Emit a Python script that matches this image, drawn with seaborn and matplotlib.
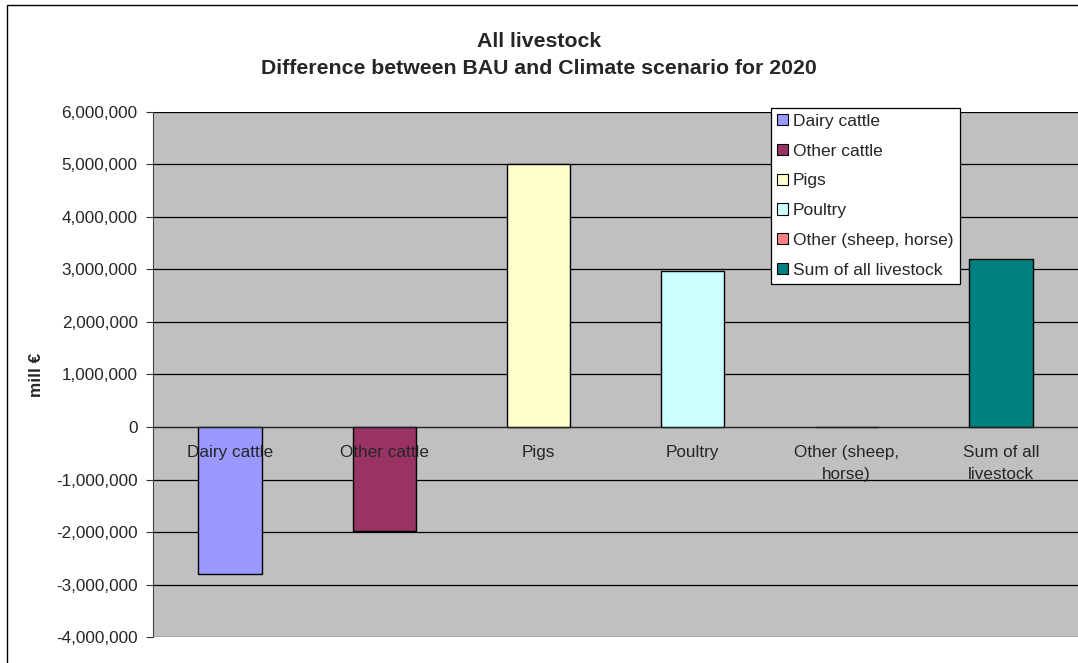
import numpy as np
import pandas as pd
import matplotlib
matplotlib.use('Agg')
import matplotlib.pyplot as plt
import matplotlib.ticker as mticker
from matplotlib.patches import Patch, Rectangle
import seaborn as sns

categories = ['Dairy cattle', 'Other cattle', 'Pigs', 'Poultry',
              'Other (sheep, horse)', 'Sum of all livestock']
tick_labels = ['Dairy cattle', 'Other cattle', 'Pigs', 'Poultry',
               'Other (sheep,\nhorse)', 'Sum of all\nlivestock']
values = [-2800000, -1980000, 5000000, 2970000, 0, 3200000]
colors = ['#9999FF', '#993366', '#FFFFCC', '#CCFFFF', '#FF8080', '#008080']

df = pd.DataFrame({'Category': categories, 'Value': values})

sns.set_style('white')
plt.rcParams['font.family'] = ['Liberation Sans', 'DejaVu Sans']

fig = plt.figure(figsize=(10.78, 6.63), dpi=100)
ax = fig.add_axes([0.1419, 0.0392, 0.8581, 0.7919])
ax.set_facecolor('#C0C0C0')

sns.barplot(data=df, x='Category', y='Value', hue='Category', palette=colors,
            dodge=False, width=0.41, edgecolor='black', linewidth=1,
            saturation=1, legend=False, ax=ax)

ax.set_ylim(-4000000, 6000000)
ax.set_xlim(-0.5, len(categories) - 0.5)
ax.yaxis.set_major_locator(mticker.MultipleLocator(1000000))
ax.yaxis.set_major_formatter(mticker.FuncFormatter(lambda v, p: f'{int(v):,}'))
ax.grid(axis='y', color='black', linewidth=0.9)
# grid behind bars, category labels on top of bars
ax.yaxis.set_zorder(0.5)
ax.xaxis.set_zorder(5)

# category axis sits on the zero line
ax.spines['bottom'].set_position(('data', 0))
ax.spines['bottom'].set_color('#222222')
ax.spines['left'].set_color('#444444')
ax.spines['top'].set_visible(False)
ax.spines['right'].set_visible(False)
ax.set_xticks(range(len(categories)))
ax.set_xticklabels(tick_labels, fontsize=12.3)
ax.set_xticks(np.arange(-0.5, len(categories), 1.0), minor=True)
ax.tick_params(axis='x', which='major', length=0, pad=13)
ax.tick_params(axis='x', which='minor', length=5, direction='in', color='#222222')
ax.tick_params(axis='y', length=5, direction='out', color='#333333', labelsize=12.3,
               left=True, pad=6)
for t in ax.get_xticklabels():
    t.set_multialignment('center')
    t.set_linespacing(1.6)

ax.set_xlabel('')
ax.set_ylabel('mill €', fontsize=12.3, fontweight='bold', labelpad=9)

handles = [Patch(facecolor=c, edgecolor='black', linewidth=0.8) for c in colors]
leg = ax.legend(handles, categories, loc='upper left', bbox_to_anchor=(0.6685, 1.008),
                fontsize=12.5, frameon=True, fancybox=False, edgecolor='black',
                framealpha=1, handlelength=0.6, handleheight=0.6, handletextpad=0.3,
                labelspacing=0.85, borderpad=0.35, borderaxespad=0)
leg.get_frame().set_linewidth(0.9)

fig.text(0.5, 0.9165, 'All livestock\nDifference between BAU and Climate scenario for 2020',
         ha='center', va='center', fontsize=15.3, fontweight='bold', linespacing=1.55)

# outer chart border (cropped on the right and bottom)
fig.patches.append(Rectangle((7 / 1078, -0.1), 1.2, 1 - 5 / 663 + 0.1,
                             transform=fig.transFigure, fill=False,
                             edgecolor='black', linewidth=1))

fig.savefig('out.png', dpi=100)
